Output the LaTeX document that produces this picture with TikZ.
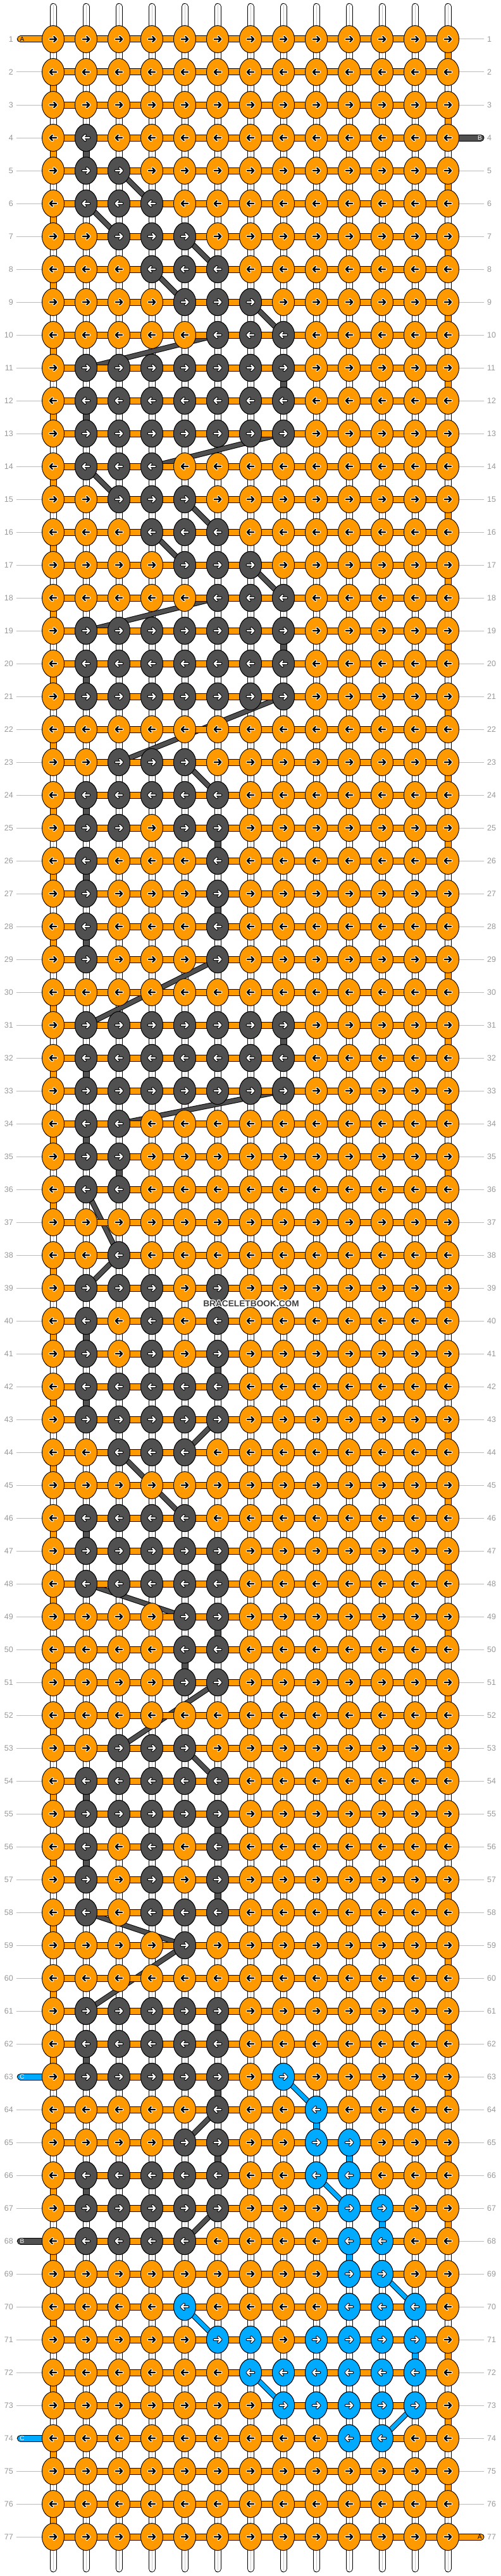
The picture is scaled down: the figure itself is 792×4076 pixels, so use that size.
\documentclass[tikz,border=0pt]{standalone}
\usepackage{fontspec}
\setmainfont{Liberation Sans}
\definecolor{ork}{HTML}{FF9900}
\definecolor{grk}{HTML}{505050}
\definecolor{blk}{HTML}{00AAFF}
\definecolor{labc}{HTML}{999999}
\definecolor{linec}{HTML}{BBBBBB}
\definecolor{warpc}{HTML}{C8C8C8}
\definecolor{wmc}{HTML}{404040}
% arrow inside a knot: col, row, outline colour, main colour
\newcommand\arrowK[4]{%
  \ifodd#2 \def\adir{1}\else\def\adir{-1}\fi
  \begin{scope}[shift={(84+52*#1,10+52*#2)},xscale=\adir]
    \draw[#3,line width=4.2pt,line cap=round,line join=round]
      (-5.3,0)--(5.3,0) (1.2,-4.1)--(5.3,0)--(1.2,4.1);
    \draw[#4,line width=2.2pt,line cap=round,line join=round]
      (-5.3,0)--(5.3,0) (1.2,-4.1)--(5.3,0)--(1.2,4.1);
  \end{scope}}
\newcommand\knotO[2]{%
  \draw[fill=ork,line width=0.9pt] (84+52*#1,10+52*#2) ellipse [x radius=17.5,y radius=21.5];
  \arrowK{#1}{#2}{white}{black}}
\newcommand\knotC[3]{%
  \draw[fill=#3,line width=0.9pt] (84+52*#1,10+52*#2) ellipse [x radius=17.5,y radius=21.5];
  \arrowK{#1}{#2}{black}{white}}
% vertical piece between row #3 and the next one, column #2
\newcommand\vseg[3]{%
  \draw[black,line width=11pt] (84+52*#2,10+52*#3) -- (84+52*#2,62+52*#3);
  \draw[#1,line width=9pt] (84+52*#2,10+52*#3) -- (84+52*#2,62+52*#3);}
% diagonal carry
\newcommand\dseg[5]{%
  \draw[black,line width=8.5pt] (84+52*#2,10+52*#3) -- (84+52*#4,10+52*#5);
  \draw[#1,line width=6.5pt] (84+52*#2,10+52*#3) -- (84+52*#4,10+52*#5);}
\newcommand\stubL[5]{% row, colour, letter, letter colour, name
  \draw[black,line width=11pt,line cap=round] (32.5,10+52*#1) -- (84,10+52*#1);
  \draw[#2,line width=9pt,line cap=round] (32.5,10+52*#1) -- (84,10+52*#1);
  \node[text=#4,font=\fontsize{10}{12}\selectfont] (#5) at (35,10+52*#1) {#3};}
\newcommand\stubR[5]{%
  \draw[black,line width=11pt,line cap=round] (708,10+52*#1) -- (760,10+52*#1);
  \draw[#2,line width=9pt,line cap=round] (708,10+52*#1) -- (760,10+52*#1);
  \node[text=#4,font=\fontsize{10}{12}\selectfont] (#5) at (758.5,10+52*#1) {#3};}
\begin{document}
\begin{tikzpicture}[x=1pt,y=-1pt]
\fill[white] (0,0) rectangle (792,4076);
\useasboundingbox (0,0) rectangle (792,4076);
% row labels and guide lines
\foreach \r in {1,...,77} {
  \node[text=labc,font=\fontsize{12.5}{14}\selectfont,anchor=east,inner sep=0pt] (ll\r) at (21,10+52*\r) {\r};
  \node[text=labc,font=\fontsize{12.5}{14}\selectfont,anchor=west,inner sep=0pt] (lr\r) at (770,10+52*\r) {\r};
  \draw[linec,line width=1pt] (26,10+52*\r) -- (67,10+52*\r);
  \draw[linec,line width=1pt] (725,10+52*\r) -- (765,10+52*\r);
}
% warp strings
\foreach \c in {0,...,12} {
  \draw[black,line width=11pt,line cap=round] (84+52*\c,10.5) -- (84+52*\c,4064.5);
  \draw[white,line width=9pt,line cap=round] (84+52*\c,10.5) -- (84+52*\c,4064.5);
  \draw[warpc,line width=1pt] (84+52*\c,8) -- (84+52*\c,4067);
}
% turnarounds of the main string
\foreach \r in {1,...,76} {
  \ifodd\r \vseg{ork}{12}{\r}\else \vseg{ork}{0}{\r}\fi
}
% grey string: verticals
\foreach \c/\r in {1/4,7/11,1/12,7/19,1/20,1/24,5/25,1/26,5/27,1/28,7/31,1/32,1/34,2/35,5/39,1/40,5/41,1/42,1/46,5/47,5/49,4/50,1/54,5/55,1/56,5/57,5/61,1/62,5/63,5/65,1/66}
  {\vseg{grk}{\c}{\r}}
% blue string: verticals
\foreach \c/\r in {8/64,9/65,10/67,9/68,11/71}
  {\vseg{blk}{\c}{\r}}
% grey string: diagonals
\foreach \a/\b/\p/\q in {2/5/3/6,1/6/2/7,4/7/5/8,3/8/4/9,6/9/7/10,5/10/1/11,7/13/3/14,1/14/2/15,4/15/5/16,3/16/4/17,6/17/7/18,5/18/1/19,7/21/2/23,4/23/5/24,5/29/1/31,7/33/2/34,1/36/2/38,2/38/1/39,5/43/4/44,2/44/4/46,1/48/4/49,5/51/2/53,4/53/5/54,1/58/4/59,4/59/1/61,5/64/4/65,5/67/4/68}
  {\dseg{grk}{\a}{\b}{\p}{\q}}
% blue string: diagonals
\foreach \a/\b/\p/\q in {7/63/8/64,8/66/9/67,10/69/11/70,4/70/5/71,6/72/7/73,11/73/10/74}
  {\dseg{blk}{\a}{\b}{\p}{\q}}
% end stubs
\stubL{1}{ork}{A}{black}{sA1}
\stubL{63}{blk}{C}{white}{sC1}
\stubL{68}{grk}{B}{white}{sB2}
\stubL{74}{blk}{C}{white}{sC2}
\stubR{4}{grk}{B}{white}{sB1}
\stubR{77}{ork}{A}{black}{sA2}
% horizontal bars
\foreach \r in {1,...,77} {
  \draw[black,line width=11pt] (84,10+52*\r) -- (708,10+52*\r);
  \draw[ork,line width=9pt] (84,10+52*\r) -- (708,10+52*\r);
}
% knots
\foreach \r in {1,...,77} {
  \foreach \c in {0,...,12} {\knotO{\c}{\r}}
}
\foreach \r/\cl in {4/{1},5/{1,2},6/{1,2,3},7/{2,3,4},8/{3,4,5},9/{4,5,6},10/{5,6,7},
  11/{1,2,3,4,5,6,7},12/{1,2,3,4,5,6,7},13/{1,2,3,4,5,6,7},14/{1,2,3},15/{2,3,4},16/{3,4,5},
  17/{4,5,6},18/{5,6,7},19/{1,2,3,4,5,6,7},20/{1,2,3,4,5,6,7},21/{1,2,3,4,5,6,7},
  23/{2,3,4},24/{1,2,3,4,5},25/{1,2,4,5},26/{1,5},27/{1,5},28/{1,5},29/{1,5},
  31/{1,2,3,4,5,6,7},32/{1,2,3,4,5,6,7},33/{1,2,3,4,5,6,7},34/{1,2},35/{1,2},36/{1,2},
  38/{2},39/{1,2,3,5},40/{1,3,5},41/{1,3,5},42/{1,2,3,4,5},43/{1,2,3,4,5},44/{2,3,4},
  46/{1,2,3,4},47/{1,2,3,4,5},48/{1,2,3,4,5},49/{4,5},50/{4,5},51/{4,5},
  53/{2,3,4},54/{1,2,3,4,5},55/{1,2,3,4,5},56/{1,3,5},57/{1,3,5},58/{1,3,4,5},59/{4},
  61/{1,2,3,4,5},62/{1,2,3,4,5},63/{1,2,3,4,5},64/{5},65/{4,5},66/{1,2,3,4,5},
  67/{1,2,3,4,5},68/{1,2,3,4}}
  {\foreach \c in \cl {\knotC{\c}{\r}{grk}}}
\foreach \r/\cl in {63/{7},64/{8},65/{8,9},66/{8,9},67/{9,10},68/{9,10},69/{9,10},
  70/{4,9,10,11},71/{5,6,8,9,10,11},72/{6,7,8,9,10,11},73/{7,8,9,10,11},74/{9,10}}
  {\foreach \c in \cl {\knotC{\c}{\r}{blk}}}
% watermark
\foreach \dx/\dy in {1.2/0,-1.2/0,0/1.2,0/-1.2,0.85/0.85,-0.85/0.85,0.85/-0.85,-0.85/-0.85}
  {\node[text=white,font=\bfseries\fontsize{13.7}{15}\selectfont] at (397+\dx,2063+\dy) {BRACELETBOOK.COM};}
\node[text=wmc,font=\bfseries\fontsize{13.7}{15}\selectfont] (wm) at (397,2063) {BRACELETBOOK.COM};
\end{tikzpicture}
\end{document}
